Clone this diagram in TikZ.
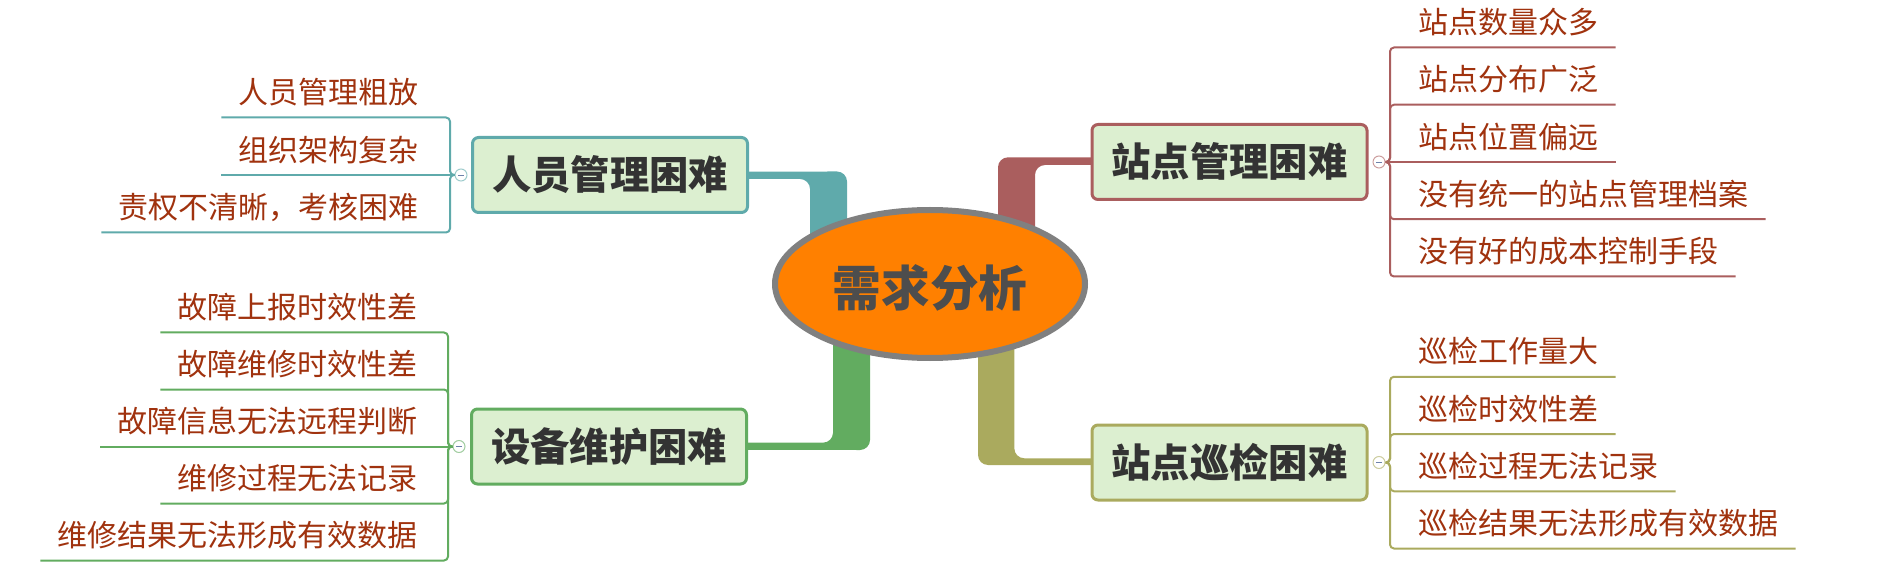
\documentclass[tikz,border=0pt]{standalone}
\usepackage{fontspec}
\setmainfont{Noto Sans CJK SC}
\usetikzlibrary{shapes.geometric,backgrounds}

\definecolor{peopleC}{RGB}{95,170,171}
\definecolor{siteC}{RGB}{170,94,94}
\definecolor{deviceC}{RGB}{98,172,96}
\definecolor{inspectC}{RGB}{170,170,94}
\definecolor{topicFill}{RGB}{220,239,208}
\definecolor{topicText}{RGB}{51,51,51}
\definecolor{leafText}{RGB}{160,50,14}
\definecolor{rootFill}{RGB}{255,128,0}
\definecolor{rootLine}{RGB}{128,128,128}
\definecolor{rootText}{RGB}{77,77,77}
\definecolor{foldMinus}{RGB}{110,130,170}

\tikzset{
    root/.style={ellipse, draw=rootLine, fill=rootFill, line width=4.5pt, minimum width=232.5pt, minimum height=111pt, inner sep=0pt, text=rootText, font=\fontsize{36.5pt}{36.5pt}\selectfont\bfseries, text height=38pt, text depth=4.4pt},
    topic/.style={draw=#1, fill=topicFill, line width=2.25pt, rounded corners=4.5pt, minimum width=206.25pt, minimum height=56.25pt, text=topicText, font=\fontsize{29.5pt}{29.5pt}\selectfont\bfseries, text height=26pt, text depth=3.5pt},
    leaf/.style={text=leafText, font=\fontsize{22.5pt}{22.5pt}\selectfont, inner xsep=12.75pt, inner ysep=7.5pt, text height=19.8pt, text depth=2.7pt},
    fold/.style={circle, draw=#1!60, fill=white, line width=0.75pt, minimum size=9pt, inner sep=0pt},
    twig/.style={draw=#1, line width=1.5pt, rounded corners=3pt},
    branch/.style={fill=#1, rounded corners=7.5pt}
}

\begin{document}
\begin{tikzpicture}[x=0.75pt, y=-0.75pt]
    \useasboundingbox (0,0) rectangle (1901,566);

    \node[root] (need) at (930,284) {需求分析};

    \node[topic=peopleC] (people) at (610,175) {人员管理困难};
    \node[topic=deviceC] (device) at (609,446.5) {设备维护困难};
    \node[topic=siteC] (site) at (1229.5,162) {站点管理困难};
    \node[topic=inspectC] (inspect) at (1229.5,462.5) {站点巡检困难};

    \begin{pgfonlayer}{background}
        \fill[branch=peopleC] ([yshift=2.6pt]people.center) -- (847,171.5) -- (847,250) -- (810,250) -- (810,179) -- ([yshift=-3pt]people.center) -- cycle;
        \fill[branch=siteC] ([yshift=3.5pt]site.center) -- (998,157.3) -- (998,255) -- (1035,255) -- (1035,165) -- ([yshift=-2.25pt]site.center) -- cycle;
        \fill[branch=deviceC] ([yshift=3pt]device.center) -- (833,442.7) -- (833,320) -- (870,320) -- (870,450) -- ([yshift=-2.6pt]device.center) -- cycle;
        \fill[branch=inspectC] ([yshift=3pt]inspect.center) -- (1014.3,458.3) -- (1014.3,320) -- (978,320) -- (978,465) -- ([yshift=-1.9pt]inspect.center) -- cycle;
    \end{pgfonlayer}

    \node[leaf, anchor=south east] (p1) at (436,117.5) {人员管理粗放};
    \node[leaf, anchor=south east] (p2) at (436,175) {组织架构复杂};
    \node[leaf, anchor=south east] (p3) at (436,232.5) {责权不清晰，考核困难};

    \node[leaf, anchor=south east] (d1) at (435,332.5) {故障上报时效性差};
    \node[leaf, anchor=south east] (d2) at (435,389.5) {故障维修时效性差};
    \node[leaf, anchor=south east] (d3) at (435,446.5) {故障信息无法远程判断};
    \node[leaf, anchor=south east] (d4) at (435,503.5) {维修过程无法记录};
    \node[leaf, anchor=south east] (d5) at (435,560.5) {维修结果无法形成有效数据};

    \node[leaf, anchor=south west] (s1) at (1401,47.5) {站点数量众多};
    \node[leaf, anchor=south west] (s2) at (1401,104.75) {站点分布广泛};
    \node[leaf, anchor=south west] (s3) at (1401,162) {站点位置偏远};
    \node[leaf, anchor=south west] (s4) at (1401,219.25) {没有统一的站点管理档案};
    \node[leaf, anchor=south west] (s5) at (1401,276.5) {没有好的成本控制手段};

    \node[leaf, anchor=south west] (i1) at (1401,376.75) {巡检工作量大};
    \node[leaf, anchor=south west] (i2) at (1401,434) {巡检时效性差};
    \node[leaf, anchor=south west] (i3) at (1401,491.25) {巡检过程无法记录};
    \node[leaf, anchor=south west] (i4) at (1401,548.5) {巡检结果无法形成有效数据};

    \node[fold=peopleC] (pfold) at (461,175) {\textcolor{foldMinus}{\rule{4pt}{0.6pt}}};
    \node[fold=deviceC] (dfold) at (459,446.5) {\textcolor{foldMinus}{\rule{4pt}{0.6pt}}};
    \node[fold=siteC] (sfold) at (1379,162) {\textcolor{foldMinus}{\rule{4pt}{0.6pt}}};
    \node[fold=inspectC] (ifold) at (1379,462.5) {\textcolor{foldMinus}{\rule{4pt}{0.6pt}}};

    \coordinate (pbr) at (450,175);
    \coordinate (dbr) at (448,446.5);
    \coordinate (sbr) at (1390,162);
    \coordinate (ibr) at (1390,462.5);

    \draw[twig=peopleC] (pfold.west) -- (pbr) |- (p1.south west);
    \draw[twig=peopleC] (pfold.west) -- (p2.south west);
    \draw[twig=peopleC] (pfold.west) -- (pbr) |- (p3.south west);

    \draw[twig=deviceC] (dfold.west) -- (dbr) |- (d1.south west);
    \draw[twig=deviceC] (dfold.west) -- (dbr) |- (d2.south west);
    \draw[twig=deviceC] (dfold.west) -- (d3.south west);
    \draw[twig=deviceC] (dfold.west) -- (dbr) |- (d4.south west);
    \draw[twig=deviceC] (dfold.west) -- (dbr) |- (d5.south west);

    \draw[twig=siteC] (sfold.east) -- (sbr) |- (s1.south east);
    \draw[twig=siteC] (sfold.east) -- (sbr) |- (s2.south east);
    \draw[twig=siteC] (sfold.east) -- (s3.south east);
    \draw[twig=siteC] (sfold.east) -- (sbr) |- (s4.south east);
    \draw[twig=siteC] (sfold.east) -- (sbr) |- (s5.south east);

    \draw[twig=inspectC] (ifold.east) -- (ibr) |- (i1.south east);
    \draw[twig=inspectC] (ifold.east) -- (ibr) |- (i2.south east);
    \draw[twig=inspectC] (ifold.east) -- (ibr) |- (i3.south east);
    \draw[twig=inspectC] (ifold.east) -- (ibr) |- (i4.south east);

\end{tikzpicture}
\end{document}
